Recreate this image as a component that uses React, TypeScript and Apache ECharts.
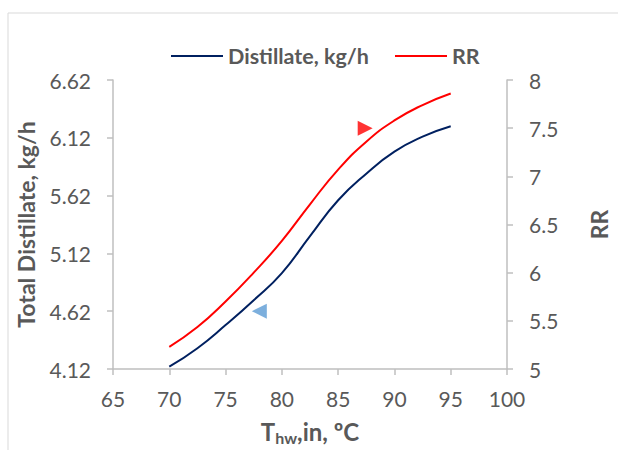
import React, { useEffect, useRef } from "react";
import * as echarts from "echarts";

const temps = [70, 72.5, 75, 77.5, 80, 82.5, 85, 87.5, 90, 92.5, 95];
const distillate = [4.14, 4.3, 4.5, 4.715, 4.95, 5.27, 5.58, 5.81, 6.0, 6.13, 6.22];
const rr = [5.23, 5.435, 5.7, 6.0, 6.33, 6.71, 7.07, 7.36, 7.58, 7.74, 7.86];
const leftTicks = [4.12, 4.62, 5.12, 5.62, 6.12, 6.62];
const rightTicks = [5, 5.5, 6, 6.5, 7, 7.5, 8];
const xTicks = [65, 70, 75, 80, 85, 90, 95, 100];
// axis-pointer triangles: [x, value]
const rrMarker = [87.4, 7.5];
const distMarker = [78.0, 4.62];

const FONT = "Lato";
const GREY = "#595959";
const AXIS = "#BFBFBF";

export default function App() {
  const ref = useRef<HTMLDivElement>(null);
  useEffect(() => {
    document.body.style.margin = "0";
    const chart = echarts.init(ref.current!, null, { renderer: "svg" });
    const offset = leftTicks[0] - Math.floor(leftTicks[0] / 0.5) * 0.5; // 0.12
    const lMin = leftTicks[0] - offset;
    const lMax = leftTicks[leftTicks.length - 1] - offset;
    chart.setOption({
      animation: false,
      textStyle: { fontFamily: FONT },
      graphic: [
        {
          type: "rect",
          shape: { x: 8, y: 13, width: 700, height: 500 },
          style: { fill: "none", stroke: "#D9D9D9", lineWidth: 1 },
          silent: true,
        },
      ],
      legend: {
        top: 40,
        left: 166,
        data: ["Distillate, kg/h", "RR"],
        itemWidth: 52,
        itemHeight: 2,
        itemGap: 26,
        icon: "rect",
        textStyle: { fontFamily: FONT, fontSize: 21.5, fontWeight: "bold", color: GREY },
      },
      grid: { left: 113, right: 85, top: 80, bottom: 80 },
      xAxis: {
        type: "value",
        min: xTicks[0],
        max: xTicks[xTicks.length - 1],
        interval: 5,
        splitLine: { show: false },
        axisLine: { lineStyle: { color: AXIS, width: 1.5 } },
        axisTick: { length: 6, lineStyle: { color: AXIS, width: 1.5 } },
        axisLabel: { color: GREY, fontSize: 21, margin: 19, fontFamily: FONT },
        name: "T{sub|hw},in, ºC",
        nameLocation: "middle",
        nameGap: 48,
        nameTextStyle: {
          color: GREY,
          fontSize: 24,
          fontWeight: "bold",
          fontFamily: FONT,
          rich: {
            sub: { fontSize: 16, fontWeight: "bold", color: GREY, verticalAlign: "bottom", padding: [12, 0, 0, 0], fontFamily: FONT },
          },
        },
      },
      yAxis: [
        {
          type: "value",
          min: lMin,
          max: lMax,
          interval: 0.5,
          splitLine: { show: false },
          axisLine: { show: true, lineStyle: { color: AXIS, width: 1.5 } },
          axisTick: { show: true, length: 6, lineStyle: { color: AXIS, width: 1.5 } },
          axisLabel: {
            color: GREY,
            fontSize: 21,
            margin: 22,
            fontFamily: FONT,
            formatter: (v: number) => (v + offset).toFixed(2),
          },
          name: "Total Distillate, kg/h",
          nameLocation: "middle",
          nameRotate: 90,
          nameGap: 76,
          nameTextStyle: { color: GREY, fontSize: 23, fontWeight: "bold", fontFamily: FONT },
        },
        {
          type: "value",
          position: "right",
          min: rightTicks[0],
          max: rightTicks[rightTicks.length - 1],
          interval: 0.5,
          splitLine: { show: false },
          axisLine: { show: true, lineStyle: { color: AXIS, width: 1.5 } },
          axisTick: { show: true, length: 6, lineStyle: { color: AXIS, width: 1.5 } },
          axisLabel: { color: GREY, fontSize: 21, margin: 22, fontFamily: FONT },
          name: "RR",
          nameLocation: "middle",
          nameRotate: 90,
          nameGap: 80,
          nameTextStyle: { color: GREY, fontSize: 23, fontWeight: "bold", fontFamily: FONT },
        },
      ],
      series: [
        {
          name: "Distillate, kg/h",
          type: "line",
          yAxisIndex: 0,
          smooth: 0.5,
          symbol: "none",
          lineStyle: { color: "#002060", width: 2 },
          itemStyle: { color: "#002060" },
          data: temps.map((t, i) => [t, distillate[i] - offset]),
        },
        {
          name: "RR",
          type: "line",
          yAxisIndex: 1,
          smooth: 0.5,
          symbol: "none",
          lineStyle: { color: "#FF0000", width: 2 },
          itemStyle: { color: "#FF0000" },
          data: temps.map((t, i) => [t, rr[i]]),
        },
        {
          name: "rrMarker",
          type: "scatter",
          yAxisIndex: 1,
          symbol: "triangle",
          symbolRotate: -90,
          symbolSize: [15, 15],
          itemStyle: { color: "#FF0000" },
          data: [rrMarker],
          silent: true,
        },
        {
          name: "distMarker",
          type: "scatter",
          yAxisIndex: 0,
          symbol: "triangle",
          symbolRotate: 90,
          symbolSize: [15, 15],
          itemStyle: { color: "#5B9BD5" },
          data: [[distMarker[0], distMarker[1] - offset]],
          silent: true,
        },
      ],
    });
    return () => chart.dispose();
  }, []);
  return <div ref={ref} style={{ width: 618, height: 450 }} />;
}
